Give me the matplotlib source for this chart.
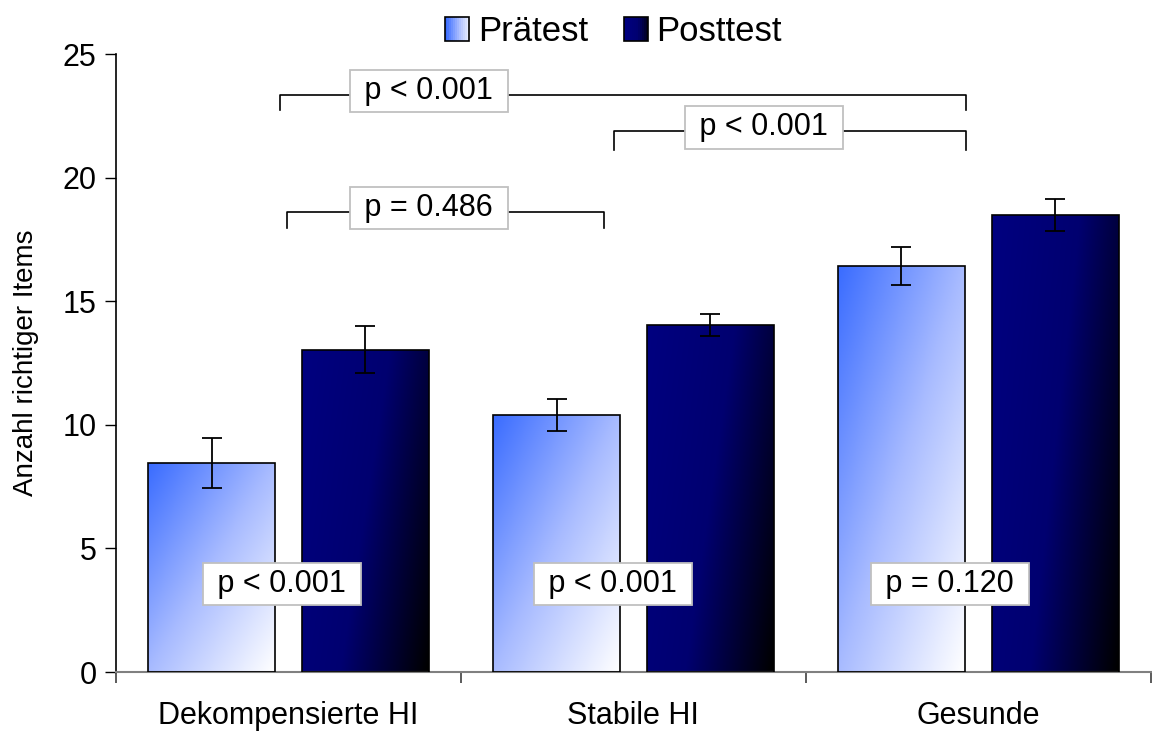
import numpy as np
import matplotlib.pyplot as plt
from matplotlib.patches import Rectangle
from matplotlib.legend_handler import HandlerBase
from matplotlib.colors import LinearSegmentedColormap

plt.rcParams['font.family'] = ['Liberation Sans', 'DejaVu Sans']

# data
groups = ['Dekompensierte HI', 'Stabile HI', 'Gesunde']
series = ['Prätest', 'Posttest']
pre_mean = [8.45, 10.4, 16.42]
pre_err = [1.0, 0.63, 0.78]
post_mean = [13.03, 14.04, 18.49]
post_err = [0.95, 0.45, 0.63]

# significance brackets: (x_left, x_right, y_line, y_end, label, label_x)
brackets = [(-0.025, 1.964, 23.34, 22.73, 'p < 0.001', 0.407),
            (0.943, 1.964, 21.88, 21.12, 'p < 0.001', 1.378),
            (-0.004, 0.914, 18.61, 17.96, 'p = 0.486', 0.407)]
# within-group p values
within_p = ['p < 0.001', 'p < 0.001', 'p = 0.120']
within_x = [-0.019, 0.941, 1.918]
within_y = 3.56

pre_cmap = LinearSegmentedColormap.from_list('pre', ['#3a6cff', '#a8bbff', '#ffffff'])
post_cmap = LinearSegmentedColormap.from_list('post', ['#000080', '#000070', '#000000'])

fig = plt.figure(figsize=(11.52, 7.33), dpi=100)
ax = fig.add_axes([0.1007, 0.0832, 0.8983, 0.8431])

x = np.arange(len(groups))
off = 0.223
w = 0.368


def gradient_bars(bars, cmap, wx, wy):
    # u: 0 at left -> 1 at right, v: 0 at top -> 1 at bottom
    uu, vv = np.meshgrid(np.linspace(0, 1, 64), np.linspace(0, 1, 256))
    grad = (wx * uu + wy * vv) / (wx + wy)
    for b in bars:
        x0, y0 = b.get_x(), b.get_y()
        x1, y1 = x0 + b.get_width(), y0 + b.get_height()
        im = ax.imshow(grad, cmap=cmap, extent=[x0, x1, y0, y1], aspect='auto',
                       origin='upper', zorder=2, interpolation='bilinear')
        im.set_clip_path(b)


b1 = ax.bar(x - off, pre_mean, w, facecolor='none', edgecolor='black', linewidth=1.2, zorder=3)
b2 = ax.bar(x + off, post_mean, w, facecolor='none', edgecolor='black', linewidth=1.2, zorder=3)
gradient_bars(b1, pre_cmap, 1.0, 1.0)
gradient_bars(b2, post_cmap, 1.0, 0.4)

ax.errorbar(x - off, pre_mean, yerr=pre_err, fmt='none', ecolor='black',
            elinewidth=1.3, capsize=7, capthick=1.3, zorder=4)
ax.errorbar(x + off, post_mean, yerr=post_err, fmt='none', ecolor='black',
            elinewidth=1.3, capsize=7, capthick=1.3, zorder=4)

box = dict(boxstyle='square,pad=0.2', facecolor='white', edgecolor='#c0c0c0', linewidth=1.3)
for xl, xr, yl, ye, lab, lx in brackets:
    ax.plot([xl, xl, xr, xr], [ye, yl, yl, ye], color='black', linewidth=1.2, zorder=4)
    ax.text(lx, yl + 0.15, ' ' + lab + ' ', ha='center', va='center', fontsize=22,
            bbox=box, zorder=5)
for lx, lab in zip(within_x, within_p):
    ax.text(lx, within_y, ' ' + lab + ' ', ha='center', va='center', fontsize=22,
            bbox=box, zorder=5)

ax.set_xlim(-0.5, 2.5)
ax.set_ylim(0, 25)
ax.set_yticks([0, 5, 10, 15, 20, 25])
ax.tick_params(axis='y', labelsize=22, length=8, width=1, direction='out', pad=6)
ax.set_xticks([-0.5, 0.5, 1.5, 2.5])
ax.set_xticklabels([])
ax.set_xticks(x, minor=True)
ax.set_xticklabels(groups, minor=True, fontsize=22)
ax.tick_params(axis='x', which='major', length=8, width=1.2, color='#404040')
ax.tick_params(axis='x', which='minor', length=0, pad=21)
ax.set_ylabel('Anzahl richtiger Items', fontsize=20, labelpad=17)

ax.spines['top'].set_visible(False)
ax.spines['right'].set_visible(False)
ax.spines['bottom'].set_color('#808080')
ax.spines['bottom'].set_linewidth(1.5)
ax.spines['left'].set_linewidth(1.2)


class GradHandler(HandlerBase):
    def __init__(self, cmap):
        super().__init__()
        self.cmap = cmap

    def create_artists(self, legend, orig_handle, xdescent, ydescent, width,
                       height, fontsize, trans):
        s = height * 1.0
        x0 = xdescent + width - s
        y0 = -ydescent + (height - s) / 2
        arts = []
        n = 12
        for i in range(n):
            arts.append(Rectangle((x0 + i * s / n, y0), s / n + 0.3, s,
                                  facecolor=self.cmap(i / (n - 1) * 0.85),
                                  edgecolor='none', transform=trans))
        arts.append(Rectangle((x0, y0), s, s, facecolor='none',
                              edgecolor='black', linewidth=1.2, transform=trans))
        return arts


h1 = Rectangle((0, 0), 1, 1)
h2 = Rectangle((0, 0), 1, 1)
fig.legend([h1, h2], series, loc='center', bbox_to_anchor=(0.5317, 0.957),
           ncol=2, frameon=False, fontsize=25, handlelength=0.75,
           handletextpad=0.25, columnspacing=0.98,
           handler_map={h1: GradHandler(pre_cmap), h2: GradHandler(post_cmap)})

plt.savefig('out.png', dpi=100)
